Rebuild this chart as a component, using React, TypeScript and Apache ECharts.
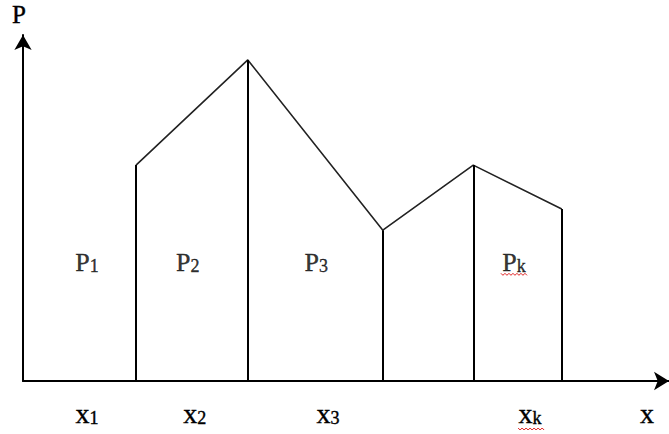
import React, { useEffect, useRef } from "react";
import * as echarts from "echarts";

// Break points of the piecewise profile: position on x and value of P there
const boundaryX = [1.75, 3.48, 5.57, 6.97, 8.34];
const boundaryP = [6.24, 9.28, 4.36, 6.24, 4.97];

// Region labels P1 … Pk placed inside the strips
const regionSubs = ["1", "2", "3", "k"];
const regionLabelX = [0.99, 2.55, 4.54, 7.6];
const regionLabelY = 3.43;

// Labels under the x axis: x1 … xk, then the axis letter
const xLabelSubs = ["1", "2", "3", "k"];
const xLabelPos = [0.99, 2.66, 4.72, 7.85];
const xAxisLetterPos = 9.66;

const FONT = "Liberation Serif";
const INK = { color: "#000", textBorderColor: "#000", textBorderWidth: 0.4 };

export default function App() {
  const ref = useRef<HTMLDivElement>(null);

  useEffect(() => {
    if (!ref.current) return;
    const chart = echarts.init(ref.current, null, { renderer: "svg" });

    const axisLabelValues = [...xLabelPos, xAxisLetterPos];

    const option: any = {
      animation: false,
      backgroundColor: "#fff",
      grid: { left: 23, right: 0, top: 35, bottom: 53 },
      xAxis: {
        type: "value",
        min: 0,
        max: 10,
        splitLine: { show: false },
        axisTick: { show: false },
        axisLine: {
          show: true,
          onZero: false,
          symbol: ["none", "arrow"],
          symbolSize: [14, 15],
          lineStyle: { color: "#000", width: 2 },
        },
        axisLabel: {
          show: true,
          customValues: axisLabelValues,
          margin: 18,
          formatter: (v: number) => {
            const i = xLabelPos.findIndex((p) => Math.abs(p - v) < 1e-6);
            if (i >= 0) return `{x|x}{s|${xLabelSubs[i]}}`;
            return "{x|x}";
          },
          rich: {
            x: { fontFamily: FONT, fontSize: 28, lineHeight: 28, ...INK },
            s: {
              fontFamily: FONT,
              fontSize: 18,
              lineHeight: 18,
              verticalAlign: "bottom",
              ...INK,
            },
          },
        },
      },
      yAxis: {
        type: "value",
        min: 0,
        max: 10,
        name: "P",
        nameLocation: "end",
        nameGap: 8,
        nameTextStyle: {
          fontFamily: FONT,
          fontSize: 25,
          padding: [0, 8, 0, 0],
          ...INK,
        },
        splitLine: { show: false },
        axisTick: { show: false },
        axisLabel: { show: false },
        axisLine: {
          show: true,
          onZero: false,
          symbol: ["none", "arrow"],
          symbolSize: [13, 15],
          lineStyle: { color: "#000", width: 2 },
        },
      },
      series: [
        {
          type: "line",
          name: "profile",
          data: boundaryX.map((x, i) => [x, boundaryP[i]]),
          symbol: "none",
          lineStyle: { color: "#222", width: 1.6 },
          markLine: {
            silent: true,
            symbol: ["none", "none"],
            label: { show: false },
            lineStyle: { type: "solid", color: "#000", width: 2 },
            data: boundaryX.map((x, i) => [
              { coord: [x, 0] },
              { coord: [x, boundaryP[i]] },
            ]),
          },
        },
        {
          type: "scatter",
          name: "regions",
          symbolSize: 0,
          silent: true,
          data: regionLabelX.map((x, i) => ({
            value: [x, regionLabelY],
            name: regionSubs[i],
          })),
          label: {
            show: true,
            position: "inside",
            formatter: (p: any) => `{p|P}{s|${p.name}}`,
            rich: {
              p: { fontFamily: FONT, fontSize: 26, lineHeight: 26, ...INK },
              s: {
                fontFamily: FONT,
                fontSize: 18,
                lineHeight: 18,
                verticalAlign: "bottom",
                ...INK,
              },
            },
          },
        },
      ],
    };

    chart.setOption(option);

    // Red wavy spell-check underline beneath the "k" labels
    const wave = (cx: number, cy: number, w: number) => {
      const pts: number[][] = [];
      for (let k = 0; k <= w; k += 2) {
        pts.push([cx - w / 2 + k, cy + (k % 4 === 0 ? 0 : 2)]);
      }
      return {
        type: "polyline",
        shape: { points: pts },
        style: { stroke: "#e02020", lineWidth: 1, fill: null },
        silent: true,
      };
    };
    const pk = chart.convertToPixel({ gridIndex: 0 }, [regionLabelX[3], regionLabelY]) as number[];
    const xk = chart.convertToPixel({ gridIndex: 0 }, [xLabelPos[3], 0]) as number[];
    chart.setOption({
      graphic: [wave(pk[0], pk[1] + 11, 26), wave(xk[0] + 1, xk[1] + 47, 26)],
    });

    return () => chart.dispose();
  }, []);

  return (
    <div
      ref={ref}
      style={{ position: "fixed", left: 0, top: 0, width: 669, height: 434 }}
    />
  );
}
